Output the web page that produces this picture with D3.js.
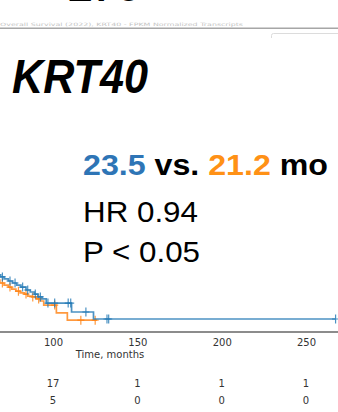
<!DOCTYPE html>
<html>
<head>
<meta charset="utf-8">
<script src="https://cdn.jsdelivr.net/npm/d3@7"></script>
<style>
  body { margin: 0; background: #fff; }
  svg { display: block; }
</style>
</head>
<body>
<div id="chart"></div>
<script>
// Kaplan-Meier steps (months, survival probability)
const blueTimes = [60, 69, 71, 73.5, 76, 78.5, 81, 84, 86.5, 89, 91, 93.5, 96, 111, 124];
const blueSurv = [0.19, 0.183, 0.176, 0.169, 0.162, 0.155, 0.148, 0.138, 0.131, 0.124, 0.114, 0.107, 0.093, 0.062, 0.038];
const blueCensor = [70, 74.5, 77.5, 82, 85, 89.5, 92.5, 97, 101, 109, 110.5, 119.5, 132, 133, 267.5];
const blueEnd = 267.5;

const orangeTimes = [60, 68.5, 71, 73.5, 75.5, 78, 80.5, 83, 85, 87.5, 90, 92.5, 94.5, 102, 108.5];
const orangeSurv = [0.172, 0.162, 0.155, 0.148, 0.141, 0.134, 0.128, 0.124, 0.117, 0.114, 0.107, 0.1, 0.086, 0.059, 0.034];
const orangeCensor = [70, 74.5, 79.5, 84, 88, 91.5, 101, 116.5, 125];
const orangeEnd = 126;

// x axis ticks and number-at-risk table
const tickValues = [0, 50, 100, 150, 200, 250];
const riskTimes = [100, 150, 200, 250];
const riskBlue = [17, 1, 1, 1];
const riskOrange = [5, 0, 0, 0];

const width = 338, height = 412;
const blue = '#1f77b4', orange = '#ff7f0e';

const svg = d3.select('#chart')
    .append('svg')
    .attr('width', width)
    .attr('height', height);

// Scales (plot extends off the left of the crop)
const x = d3.scaleLinear().domain([0, 270]).range([-115.7, 339.8]);
const y = d3.scaleLinear().domain([0, 1]).range([330, 40]);

// Slide bits at the top: cut heading, faint caption, divider, box corner
svg.append('text')
    .attr('y', 1.2)
    .style('font-family', 'Liberation Sans, Arial, sans-serif')
    .style('font-weight', 'bold')
    .style('font-size', '38px')
    .attr('fill', '#000')
    .selectAll('tspan')
    .data([['E', 67], ['.', 96], ['o', 117]])
    .join('tspan')
    .attr('x', d => d[1])
    .text(d => d[0]);

svg.append('text')
    .attr('x', 0)
    .attr('y', 25.5)
    .attr('textLength', 243)
    .attr('lengthAdjust', 'spacingAndGlyphs')
    .style('font-family', 'DejaVu Sans, sans-serif')
    .style('font-size', '4.5px')
    .attr('fill', '#c4c4c4')
    .text('Overall Survival (2022), KRT40 - FPKM Normalized Transcripts');

svg.append('line')
    .attr('x1', 0).attr('x2', width)
    .attr('y1', 28.3).attr('y2', 28.3)
    .attr('stroke', '#a6a6a6')
    .attr('stroke-width', 1.6);

svg.append('path')
    .attr('d', 'M271.5,38V35.5Q271.5,33.5 273.5,33.5H340')
    .attr('fill', 'none')
    .attr('stroke', '#dcdcdc')
    .attr('stroke-width', 1);

// Curves
const line = d3.line()
    .x(d => x(d[0]))
    .y(d => y(d[1]))
    .curve(d3.curveStepAfter);

function survAt(times, surv, t) {
    const i = d3.bisectRight(times, t) - 1;
    return surv[Math.max(0, i)];
}

function drawCurve(times, surv, censor, end, color) {
    const pts = times.map((t, i) => [t, surv[i]]);
    pts.push([end, surv[surv.length - 1]]);

    const g = svg.append('g')
        .attr('stroke', color)
        .attr('stroke-opacity', 0.8)
        .attr('fill', 'none');

    g.append('path')
        .attr('d', line(pts))
        .attr('stroke-width', 1.7);

    // '+' censor marks
    g.selectAll('path.censor')
        .data(censor)
        .join('path')
        .attr('class', 'censor')
        .attr('stroke-width', 1.2)
        .attr('d', t => {
            const cx = x(t), cy = y(survAt(times, surv, t));
            return `M${cx},${cy - 4.5}V${cy + 4.5}M${cx - 3.5},${cy}H${cx + 3.5}`;
        });
}

drawCurve(orangeTimes, orangeSurv, orangeCensor, orangeEnd, orange);
drawCurve(blueTimes, blueSurv, blueCensor, blueEnd, blue);

// x axis
const axis = svg.append('g')
    .attr('transform', 'translate(0,331.5)')
    .call(d3.axisBottom(x).tickValues(tickValues).tickSize(0).tickPadding(7));

axis.select('.domain')
    .attr('stroke', '#8c8c8c')
    .attr('stroke-width', 1.8);

axis.selectAll('text')
    .attr('fill', '#333')
    .style('font-family', 'DejaVu Sans, sans-serif')
    .style('font-size', '10px');

svg.append('text')
    .attr('x', 110)
    .attr('y', 357.5)
    .attr('text-anchor', 'middle')
    .attr('fill', '#333')
    .style('font-family', 'DejaVu Sans, sans-serif')
    .style('font-size', '10px')
    .text('Time, months');

// Number at risk
[[riskBlue, 387], [riskOrange, 404]].forEach(([vals, yy]) => {
    svg.append('g')
        .selectAll('text')
        .data(vals)
        .join('text')
        .attr('x', (d, i) => x(riskTimes[i]))
        .attr('y', yy)
        .attr('text-anchor', 'middle')
        .attr('fill', '#333')
        .style('font-family', 'DejaVu Sans, sans-serif')
        .style('font-size', '10px')
        .text(d => d);
});

// Slide annotations
svg.append('text')
    .attr('x', 12)
    .attr('y', 93)
    .attr('textLength', 136)
    .attr('lengthAdjust', 'spacingAndGlyphs')
    .style('font-family', 'Liberation Sans, Arial, sans-serif')
    .style('font-weight', 'bold')
    .style('font-style', 'italic')
    .style('font-size', '49px')
    .attr('fill', '#000')
    .text('KRT40');

const median = svg.append('text')
    .attr('x', 83)
    .attr('y', 175)
    .attr('textLength', 245)
    .attr('lengthAdjust', 'spacingAndGlyphs')
    .style('font-family', 'Liberation Sans, Arial, sans-serif')
    .style('font-weight', 'bold')
    .style('font-size', '29px')
    .attr('fill', '#000');
median.append('tspan').attr('fill', '#2e75b6').text('23.5');
median.append('tspan').text(' vs. ');
median.append('tspan').attr('fill', '#ff9116').text('21.2');
median.append('tspan').text(' mo');

svg.append('text')
    .attr('x', 83)
    .attr('y', 222)
    .attr('textLength', 115)
    .attr('lengthAdjust', 'spacingAndGlyphs')
    .style('font-family', 'Liberation Sans, Arial, sans-serif')
    .style('font-size', '30px')
    .attr('fill', '#000')
    .text('HR 0.94');

svg.append('text')
    .attr('x', 83)
    .attr('y', 262)
    .attr('textLength', 117)
    .attr('lengthAdjust', 'spacingAndGlyphs')
    .style('font-family', 'Liberation Sans, Arial, sans-serif')
    .style('font-size', '30px')
    .attr('fill', '#000')
    .text('P < 0.05');
</script>
</body>
</html>
